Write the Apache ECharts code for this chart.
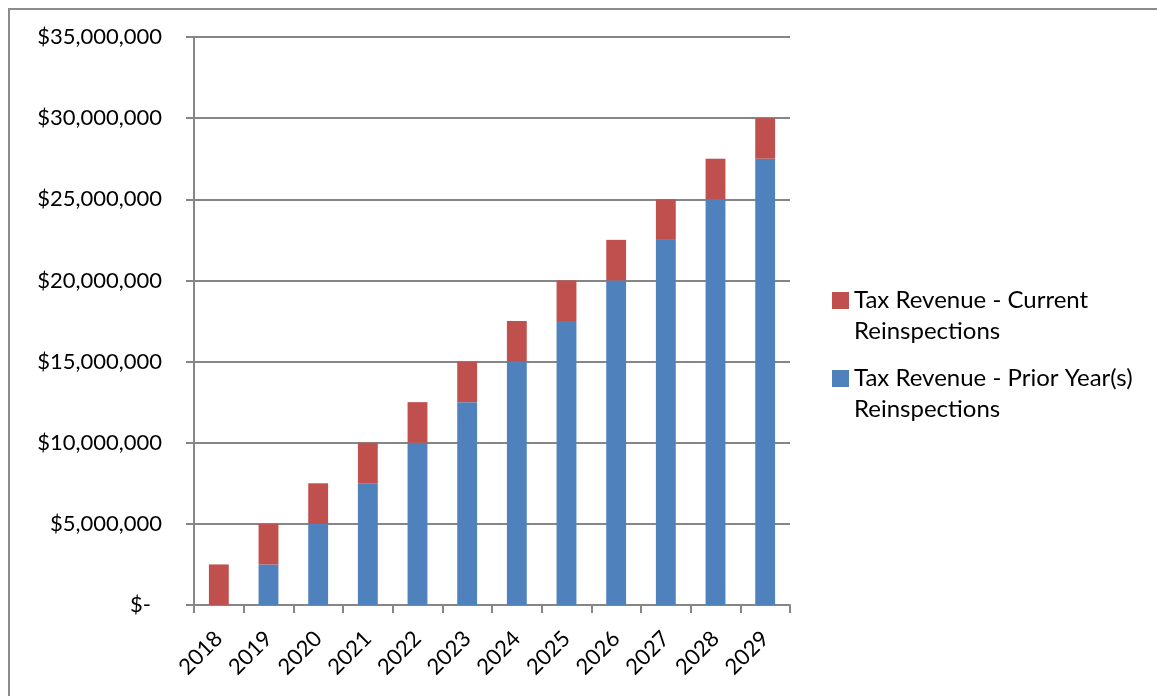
<!DOCTYPE html>
<html><head><meta charset="utf-8">
<script src="https://cdn.jsdelivr.net/npm/echarts@6/dist/echarts.min.js"></script>
<style>
html,body{margin:0;padding:0;background:#fff;width:1157px;height:696px;overflow:hidden}
#frame{position:absolute;left:8px;top:8px;width:1200px;height:750px;border:2px solid #8c8c8c;box-sizing:border-box}
#c{position:absolute;left:0;top:0;width:1157px;height:696px}
</style></head>
<body><div id="frame"></div><div id="c"></div>
<script>
const years = ['2018','2019','2020','2021','2022','2023','2024','2025','2026','2027','2028','2029'];
const priorYears = [0,2500000,5000000,7500000,10000000,12500000,15000000,17500000,20000000,22500000,25000000,27500000];
const current = [2500000,2500000,2500000,2500000,2500000,2500000,2500000,2500000,2500000,2500000,2500000,2500000];
const nameCurrent = 'Tax Revenue - Current\nReinspections';
const namePrior = 'Tax Revenue - Prior Year(s)\nReinspections';
const fontFam = 'Lato, "Open Sans", sans-serif';
const chart = echarts.init(document.getElementById('c'));
chart.setOption({
  animation:false,
  grid:{left:194,right:367,top:37,bottom:91,containLabel:false},
  legend:{
    orient:'vertical', left:827, top:249, itemWidth:17, itemHeight:17, itemGap:-15,
    icon:'rect', data:[nameCurrent,namePrior],
    formatter:function(n){ return '\n'+n; },
    textStyle:{fontFamily:fontFam,fontSize:24,color:'#000',lineHeight:31}
  },
  xAxis:{
    type:'category', data:years, boundaryGap:true,
    axisLine:{lineStyle:{color:'#868686',width:2}},
    axisTick:{show:true,length:8,lineStyle:{color:'#868686',width:2}},
    axisLabel:{rotate:45,margin:30,fontFamily:fontFam,fontSize:22,color:'#000'}
  },
  yAxis:{
    type:'value', min:0, max:35000000, interval:5000000,
    axisLine:{show:true,lineStyle:{color:'#868686',width:2}},
    axisTick:{show:true,length:8,lineStyle:{color:'#868686',width:2}},
    splitLine:{lineStyle:{color:'#868686',width:2}},
    axisLabel:{margin:32,fontFamily:fontFam,fontSize:22,color:'#000',
      rich:{z:{fontFamily:fontFam,fontSize:22,color:'#000',padding:[0,11,0,0]}},
      formatter:function(v){ return v===0 ? '{z|$-}' : '$'+v.toLocaleString('en-US'); }}
  },
  series:[
    {name:namePrior,type:'bar',stack:'t',data:priorYears,barWidth:'40%',itemStyle:{color:'#4F81BD'}},
    {name:nameCurrent,type:'bar',stack:'t',data:current,barWidth:'40%',itemStyle:{color:'#C0504D'}}
  ]
});
</script></body></html>
